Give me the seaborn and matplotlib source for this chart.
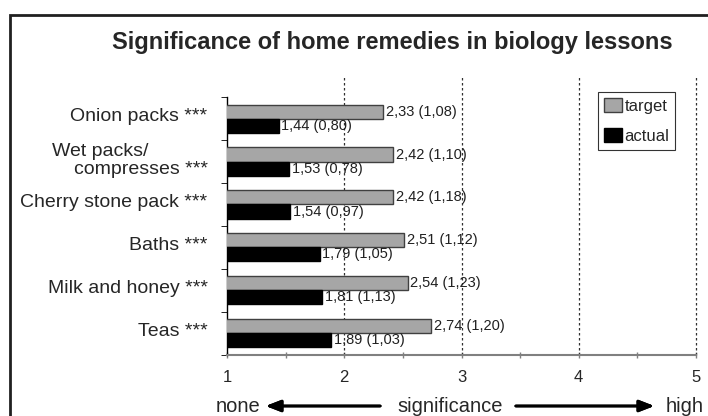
import matplotlib
matplotlib.use("Agg")
import matplotlib.pyplot as plt
import matplotlib.transforms as mtransforms
from matplotlib.patches import Rectangle, Patch
import seaborn as sns
import pandas as pd

# data
remedies = ["Onion packs ***", "Wet packs/\ncompresses ***", "Cherry stone pack ***",
            "Baths ***", "Milk and honey ***", "Teas ***"]
target_mean = [2.33, 2.42, 2.42, 2.51, 2.54, 2.74]
target_sd = [1.08, 1.10, 1.18, 1.12, 1.23, 1.20]
actual_mean = [1.44, 1.53, 1.54, 1.79, 1.81, 1.89]
actual_sd = [0.80, 0.78, 0.97, 1.05, 1.13, 1.03]
series = ["target", "actual"]
xticks = [1, 2, 3, 4, 5]

sns.set_style("white")
plt.rcParams['font.family'] = ['Liberation Sans', 'DejaVu Sans']

df = pd.DataFrame({
    'remedy': remedies * 2,
    'value': target_mean + actual_mean,
    'series': [series[0]] * len(remedies) + [series[1]] * len(remedies),
})

fig = plt.figure(figsize=(7.08, 4.16), dpi=100)
ax = fig.add_axes([227 / 708, 1 - 354.5 / 416, 469 / 708, 257.2 / 416])

sns.barplot(data=df, y='remedy', x='value', hue='series', orient='h',
            palette=['#a6a6a6', '#000000'], width=0.66, ax=ax,
            edgecolor='#404040', linewidth=1, saturation=1, legend=False, zorder=3)
for bar in ax.containers[1]:
    bar.set_edgecolor('black')

# value labels "mean (sd)" with comma decimals
def fmt(m, s):
    return f"{m:.2f} ({s:.2f})".replace('.', ',')

ax.bar_label(ax.containers[0], labels=[fmt(m, s) for m, s in zip(target_mean, target_sd)],
             padding=2, fontsize=10.5, color='#202020')
ax.bar_label(ax.containers[1], labels=[fmt(m, s) for m, s in zip(actual_mean, actual_sd)],
             padding=2, fontsize=10.5, color='#202020')

ax.set_xlim(1, 5)
ax.set_ylim(len(remedies) - 0.5, -0.5)
ax.set_xlabel('')
ax.set_ylabel('')

# dotted vertical gridlines, extending a bit above the plot
for x in xticks[1:]:
    ax.plot([x, x], [0, 1.087], transform=ax.get_xaxis_transform(), clip_on=False,
            color='#303030', linestyle=(0, (2, 2)), linewidth=0.9, zorder=1)

ax.set_xticks(xticks)
ax.set_xticklabels([str(t) for t in xticks], fontsize=12)
ax.set_xticks([1.5, 2.5, 3.5, 4.5], minor=True)
ax.tick_params(axis='x', which='both', direction='inout', length=5, width=1,
               color='#808080', pad=9, bottom=True)

ax.set_yticks(range(len(remedies)))
labels = list(remedies)
labels[1] = "Wet packs/           \ncompresses ***"
ax.set_yticklabels(labels, fontsize=14, multialignment='right', linespacing=1.1)
ax.set_yticks([i - 0.5 for i in range(len(remedies) + 1)], minor=True)
ax.tick_params(axis='y', which='major', length=0, pad=14)
ax.tick_params(axis='y', which='minor', direction='out', length=4, color='black', left=True)
shift = mtransforms.ScaledTranslation(0, 4 / 100, fig.dpi_scale_trans)
for lab in ax.get_yticklabels():
    lab.set_transform(lab.get_transform() + shift)

for side in ['top', 'right']:
    ax.spines[side].set_visible(False)
ax.spines['left'].set_color('black')
ax.spines['left'].set_linewidth(1)
ax.spines['bottom'].set_color('#808080')
ax.spines['bottom'].set_linewidth(1.5)

handles = [Patch(facecolor='#a6a6a6', edgecolor='#404040'),
           Patch(facecolor='black', edgecolor='black')]
leg = ax.legend(handles, series, loc='upper left', bbox_to_anchor=(598 / 708, 1 - 92 / 416),
                bbox_transform=fig.transFigure, fontsize=12, frameon=True, fancybox=False,
                handlelength=1.1, handleheight=0.95, handletextpad=0.15, borderpad=0.35,
                labelspacing=0.85, borderaxespad=0)
leg.get_frame().set_edgecolor('black')
leg.get_frame().set_linewidth(0.8)

fig.text(392 / 708, 1 - 43 / 416, "Significance of home remedies in biology lessons",
         ha='center', va='center', fontsize=17, fontweight='bold')

# figure frame (cut off at right and bottom)
fig.patches.append(Rectangle((10 / 708, -0.1), 1.2, 1.1 - 15 / 416, transform=fig.transFigure,
                             fill=False, edgecolor='#202020', linewidth=2))

# bottom scale description
ty = 1 - 406 / 416
fig.text(216 / 708, ty, "none", ha='left', va='center', fontsize=14.5)
fig.text(450 / 708, ty, "significance", ha='center', va='center', fontsize=14.5)
fig.text(704 / 708, ty, "high", ha='right', va='center', fontsize=14.5)
arrow = dict(arrowstyle='-|>,head_length=0.9,head_width=0.35', color='black', lw=2)
fig.add_artist(plt.annotate('', xy=(263 / 708, ty), xytext=(383 / 708, ty),
                            xycoords='figure fraction', textcoords='figure fraction',
                            arrowprops=arrow))
fig.add_artist(plt.annotate('', xy=(657 / 708, ty), xytext=(513 / 708, ty),
                            xycoords='figure fraction', textcoords='figure fraction',
                            arrowprops=arrow))

fig.savefig('out.png', dpi=100)
